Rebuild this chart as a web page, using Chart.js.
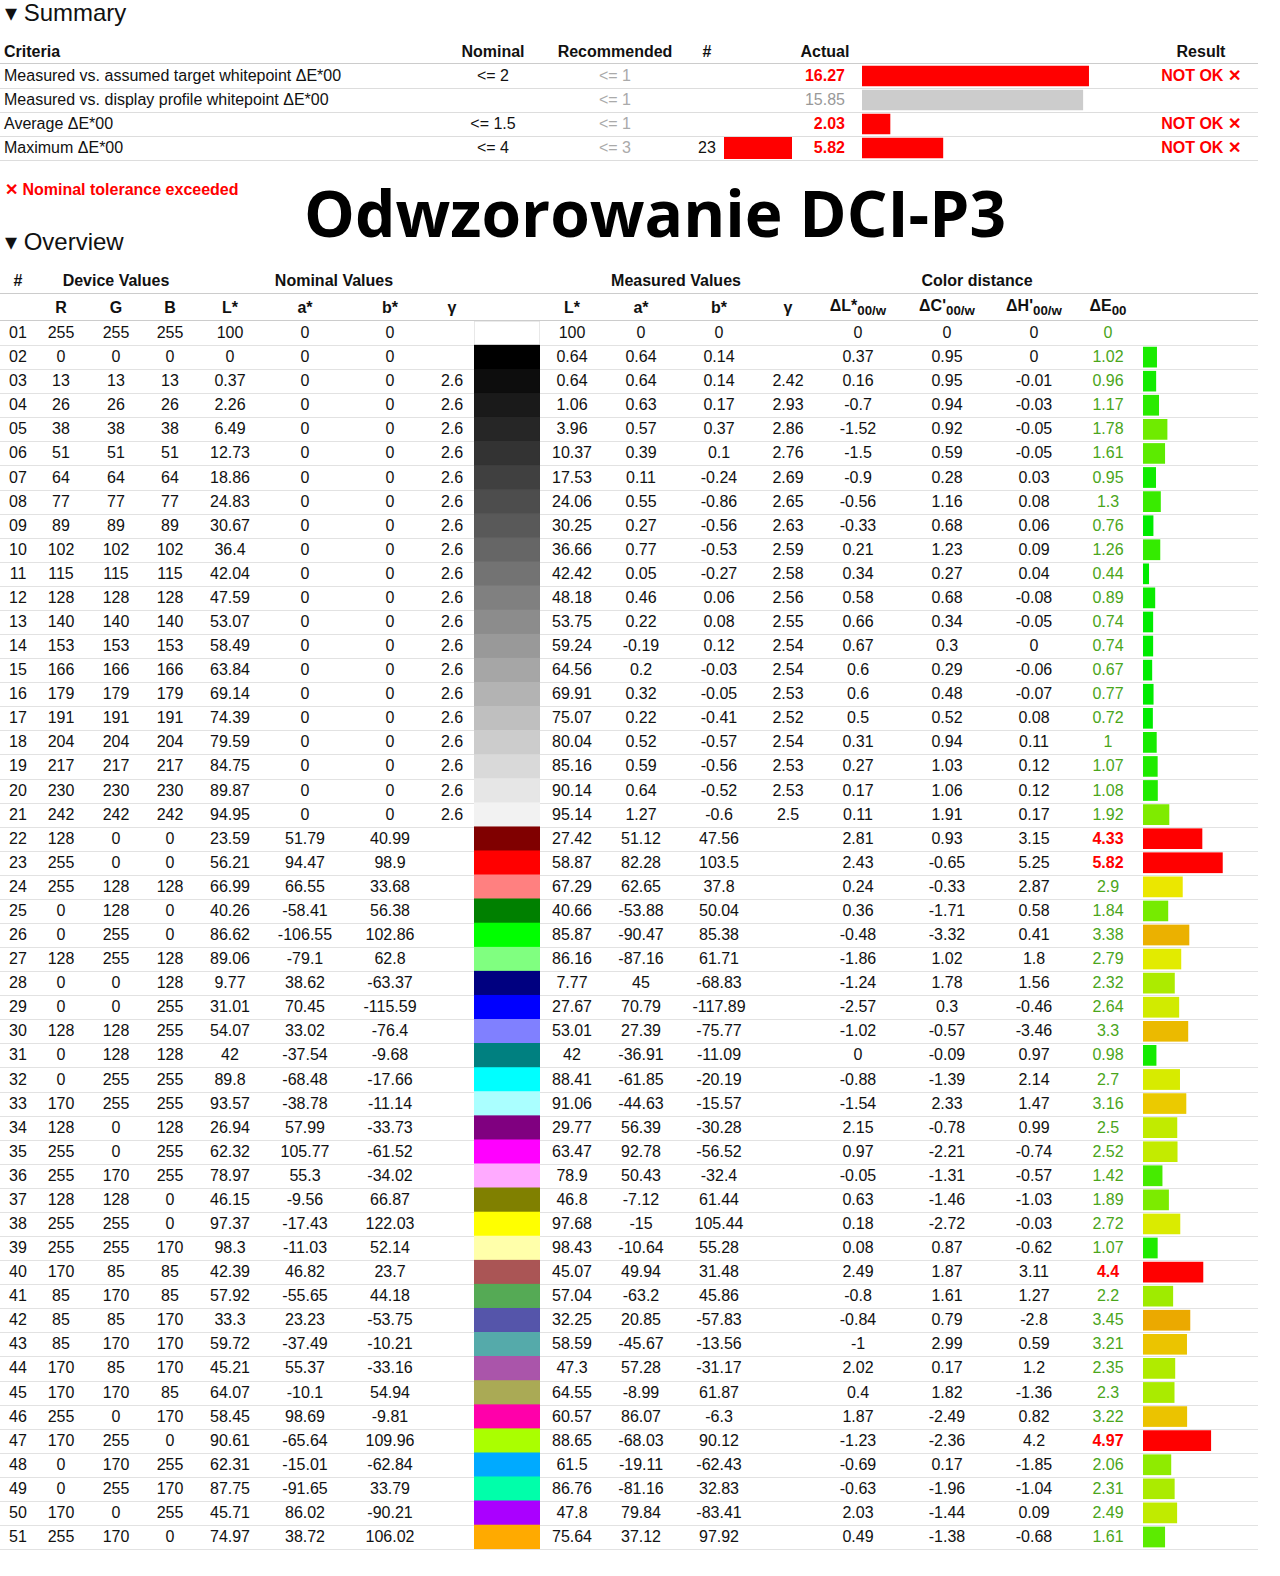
<!DOCTYPE html>
<html><head><meta charset="utf-8">
<script src="https://cdn.jsdelivr.net/npm/chart.js@4"></script>
<style>
body{margin:0;background:#fff;font-family:"Liberation Sans",Arial,sans-serif;font-size:16px;color:#111;}
#page{position:relative;width:1280px;height:1576px;overflow:hidden;}
.t{position:absolute;white-space:nowrap;line-height:1;}
.c{transform:translate(-50%,-50%);}
.l{transform:translate(0,-50%);}
.r{transform:translate(-100%,-50%);}
.hl{position:absolute;height:1px;background:#ddd;}
canvas{position:absolute;}
</style></head>
<body><div id="page"></div>
<script>
const summaryLabels = ["Measured vs. assumed target whitepoint ΔE*00","Measured vs. display profile whitepoint ΔE*00","Average ΔE*00","Maximum ΔE*00"];
const summaryNominal = ["<= 2","","<= 1.5","<= 4"];
const summaryRecommended = ["<= 1","<= 1","<= 1","<= 3"];
const summaryCount = ["","","","23"];
const summaryActual = [16.27,15.85,2.03,5.82];
const summaryResult = ["NOT OK ✕","","NOT OK ✕","NOT OK ✕"];

const devR = [255,0,13,26,38,51,64,77,89,102,115,128,140,153,166,179,191,204,217,230,242,128,255,255,0,0,128,0,0,128,0,0,170,128,255,255,128,255,255,170,85,85,85,170,170,255,170,0,0,170,255];
const devG = [255,0,13,26,38,51,64,77,89,102,115,128,140,153,166,179,191,204,217,230,242,0,0,128,128,255,255,0,0,128,128,255,255,0,0,170,128,255,255,85,170,85,170,85,170,0,255,170,255,0,170];
const devB = [255,0,13,26,38,51,64,77,89,102,115,128,140,153,166,179,191,204,217,230,242,0,0,128,0,0,128,128,255,255,128,255,255,128,255,255,0,0,170,85,85,170,170,170,85,170,0,255,170,255,0];
const nomL = [100,0,0.37,2.26,6.49,12.73,18.86,24.83,30.67,36.4,42.04,47.59,53.07,58.49,63.84,69.14,74.39,79.59,84.75,89.87,94.95,23.59,56.21,66.99,40.26,86.62,89.06,9.77,31.01,54.07,42,89.8,93.57,26.94,62.32,78.97,46.15,97.37,98.3,42.39,57.92,33.3,59.72,45.21,64.07,58.45,90.61,62.31,87.75,45.71,74.97];
const nomA = [0,0,0,0,0,0,0,0,0,0,0,0,0,0,0,0,0,0,0,0,0,51.79,94.47,66.55,-58.41,-106.55,-79.1,38.62,70.45,33.02,-37.54,-68.48,-38.78,57.99,105.77,55.3,-9.56,-17.43,-11.03,46.82,-55.65,23.23,-37.49,55.37,-10.1,98.69,-65.64,-15.01,-91.65,86.02,38.72];
const nomB = [0,0,0,0,0,0,0,0,0,0,0,0,0,0,0,0,0,0,0,0,0,40.99,98.9,33.68,56.38,102.86,62.8,-63.37,-115.59,-76.4,-9.68,-17.66,-11.14,-33.73,-61.52,-34.02,66.87,122.03,52.14,23.7,44.18,-53.75,-10.21,-33.16,54.94,-9.81,109.96,-62.84,33.79,-90.21,106.02];
const nomGamma = ["","",2.6,2.6,2.6,2.6,2.6,2.6,2.6,2.6,2.6,2.6,2.6,2.6,2.6,2.6,2.6,2.6,2.6,2.6,2.6];
const measL = [100,0.64,0.64,1.06,3.96,10.37,17.53,24.06,30.25,36.66,42.42,48.18,53.75,59.24,64.56,69.91,75.07,80.04,85.16,90.14,95.14,27.42,58.87,67.29,40.66,85.87,86.16,7.77,27.67,53.01,42,88.41,91.06,29.77,63.47,78.9,46.8,97.68,98.43,45.07,57.04,32.25,58.59,47.3,64.55,60.57,88.65,61.5,86.76,47.8,75.64];
const measA = [0,0.64,0.64,0.63,0.57,0.39,0.11,0.55,0.27,0.77,0.05,0.46,0.22,-0.19,0.2,0.32,0.22,0.52,0.59,0.64,1.27,51.12,82.28,62.65,-53.88,-90.47,-87.16,45,70.79,27.39,-36.91,-61.85,-44.63,56.39,92.78,50.43,-7.12,-15,-10.64,49.94,-63.2,20.85,-45.67,57.28,-8.99,86.07,-68.03,-19.11,-81.16,79.84,37.12];
const measB = [0,0.14,0.14,0.17,0.37,0.1,-0.24,-0.86,-0.56,-0.53,-0.27,0.06,0.08,0.12,-0.03,-0.05,-0.41,-0.57,-0.56,-0.52,-0.6,47.56,103.5,37.8,50.04,85.38,61.71,-68.83,-117.89,-75.77,-11.09,-20.19,-15.57,-30.28,-56.52,-32.4,61.44,105.44,55.28,31.48,45.86,-57.83,-13.56,-31.17,61.87,-6.3,90.12,-62.43,32.83,-83.41,97.92];
const measGamma = ["","",2.42,2.93,2.86,2.76,2.69,2.65,2.63,2.59,2.58,2.56,2.55,2.54,2.54,2.53,2.52,2.54,2.53,2.53,2.5];
const deltaL = [0,0.37,0.16,-0.7,-1.52,-1.5,-0.9,-0.56,-0.33,0.21,0.34,0.58,0.66,0.67,0.6,0.6,0.5,0.31,0.27,0.17,0.11,2.81,2.43,0.24,0.36,-0.48,-1.86,-1.24,-2.57,-1.02,0,-0.88,-1.54,2.15,0.97,-0.05,0.63,0.18,0.08,2.49,-0.8,-0.84,-1,2.02,0.4,1.87,-1.23,-0.69,-0.63,2.03,0.49];
const deltaC = [0,0.95,0.95,0.94,0.92,0.59,0.28,1.16,0.68,1.23,0.27,0.68,0.34,0.3,0.29,0.48,0.52,0.94,1.03,1.06,1.91,0.93,-0.65,-0.33,-1.71,-3.32,1.02,1.78,0.3,-0.57,-0.09,-1.39,2.33,-0.78,-2.21,-1.31,-1.46,-2.72,0.87,1.87,1.61,0.79,2.99,0.17,1.82,-2.49,-2.36,0.17,-1.96,-1.44,-1.38];
const deltaH = [0,0,-0.01,-0.03,-0.05,-0.05,0.03,0.08,0.06,0.09,0.04,-0.08,-0.05,0,-0.06,-0.07,0.08,0.11,0.12,0.12,0.17,3.15,5.25,2.87,0.58,0.41,1.8,1.56,-0.46,-3.46,0.97,2.14,1.47,0.99,-0.74,-0.57,-1.03,-0.03,-0.62,3.11,1.27,-2.8,0.59,1.2,-1.36,0.82,4.2,-1.85,-1.04,0.09,-0.68];
const deltaE = [0,1.02,0.96,1.17,1.78,1.61,0.95,1.3,0.76,1.26,0.44,0.89,0.74,0.74,0.67,0.77,0.72,1,1.07,1.08,1.92,4.33,5.82,2.9,1.84,3.38,2.79,2.32,2.64,3.3,0.98,2.7,3.16,2.5,2.52,1.42,1.89,2.72,1.07,4.4,2.2,3.45,3.21,2.35,2.3,3.22,4.97,2.06,2.31,2.49,1.61];

const page = document.getElementById("page");
function txt(s, x, y, cls, style) {
  const d = document.createElement("div");
  d.className = "t " + (cls || "c");
  d.innerHTML = s;
  d.style.left = x + "px"; d.style.top = y + "px";
  if (style) d.style.cssText += style;
  page.appendChild(d);
  return d;
}
function line(x, y, w, col) {
  const d = document.createElement("div");
  d.className = "hl";
  d.style.left = x + "px"; d.style.top = y + "px"; d.style.width = w + "px";
  if (col) d.style.background = col;
  page.appendChild(d);
}
function deColor(v) {
  if (v >= 4) return "#ff0000";
  const h = Math.max(40, 120 - Math.max(0, v - 0.8) * 29);
  return `hsl(${h},100%,46%)`;
}
function makeCanvas(x, y, w, h) {
  const c = document.createElement("canvas");
  c.style.left = x + "px"; c.style.top = y + "px";
  c.style.width = w + "px"; c.style.height = h + "px";
  c.width = w; c.height = h;
  page.appendChild(c);
  return c;
}
function hbar(canvas, labels, values, colors, max, pct, border) {
  return new Chart(canvas, {
    type: "bar",
    data: { labels: labels, datasets: [{ data: values, backgroundColor: colors,
      borderColor: border || colors, borderWidth: border ? 1 : 0,
      categoryPercentage: 1, barPercentage: pct, borderSkipped: false }] },
    options: {
      indexAxis: "y", responsive: false, animation: false, devicePixelRatio: 2,
      layout: { padding: 0 },
      plugins: { legend: { display: false }, tooltip: { enabled: false } },
      scales: { x: { display: false, min: 0, max: max }, y: { display: false } }
    }
  });
}

// Summary
txt("▾ Summary", 5, 13, "l", "font-size:24px;");
const sh = "font-weight:bold;";
txt("Criteria", 4, 52, "l", sh);
txt("Nominal", 493, 52, "c", sh);
txt("Recommended", 615, 52, "c", sh);
txt("#", 707, 52, "c", sh);
txt("Actual", 825, 52, "c", sh);
txt("Result", 1201, 52, "c", sh);
line(0, 63, 1258, "#ccc");
summaryLabels.forEach((s, i) => {
  const y = 76 + i * 24;
  txt(s, 4, y, "l");
  txt(summaryNominal[i], 493, y, "c");
  txt(summaryRecommended[i], 615, y, "c", "color:#aaa;");
  txt(summaryCount[i], 707, y, "c");
  const bad = summaryResult[i] !== "";
  txt(summaryActual[i].toFixed(2), 845, y, "r", bad ? "color:#f00;font-weight:bold;" : "color:#999;");
  txt(summaryResult[i], 1201, y, "c", "color:#f00;font-weight:bold;");
  line(0, y + 12, 1258, "#ddd");
});
hbar(makeCanvas(862, 64, 238, 96), summaryLabels, summaryActual,
  summaryActual.map((v, i) => summaryResult[i] ? "#ff0000" : "#cccccc"), 17.06, 0.85);
// max row swatch
hbar(makeCanvas(724, 137, 68, 22), ["max"], [1], ["#ff0000"], 1, 1);

txt("✕ Nominal tolerance exceeded", 5, 190, "l", "color:#f00;font-weight:bold;");
txt("Odwzorowanie DCI-P3", 655, 213, "c", "font-family:'Open Sans';font-weight:bold;font-size:64px;color:#000;");
txt("▾ Overview", 5, 242, "l", "font-size:24px;");

// Overview headers
txt("#", 18, 281, "c", sh);
txt("Device Values", 116, 281, "c", sh);
txt("Nominal Values", 334, 281, "c", sh);
txt("Measured Values", 676, 281, "c", sh);
txt("Color distance", 977, 281, "c", sh);
line(0, 293, 1258, "#ccc");
const colX = [61,116,170,230,305,390,452,572,641,719,788,858,947,1034,1108];
const subs = ["R","G","B","L*","a*","b*","γ","L*","a*","b*","γ",
  "ΔL*<sub>00/w</sub>","ΔC'<sub>00/w</sub>","ΔH'<sub>00/w</sub>","ΔE<sub>00</sub>"];
subs.forEach((s, i) => txt(s, colX[i], 308, "c", sh));
line(0, 320, 1258, "#ccc");

const rowH = 24.08, top0 = 321;
const rowLabels = deltaE.map((v, i) => String(i + 1).padStart(2, "0"));
rowLabels.forEach((lab, i) => {
  const y = top0 + rowH * i + rowH / 2;
  const vals = [devR[i], devG[i], devB[i], nomL[i], nomA[i], nomB[i], nomGamma[i] ?? "",
    measL[i], measA[i], measB[i], measGamma[i] ?? "", deltaL[i], deltaC[i], deltaH[i]];
  txt(lab, 18, y, "c");
  vals.forEach((v, k) => txt(String(v), colX[k], y, "c"));
  const e = deltaE[i];
  txt(String(e), colX[14], y, "c", e >= 4 ? "color:#f00;font-weight:bold;" : "color:#4aa51a;");
  line(0, top0 + rowH * (i + 1), 1258, "#e2e2e2");
});

// swatches
const swatchColors = devR.map((r, i) => `rgb(${r},${devG[i]},${devB[i]})`);
hbar(makeCanvas(474, top0, 66, rowH * 51), rowLabels, deltaE.map(() => 1), swatchColors, 1, 1,
  swatchColors.map((c, i) => i === 0 ? "#ddd" : c));
// deltaE bars
hbar(makeCanvas(1143, top0, 117, rowH * 51), rowLabels, deltaE, deltaE.map(deColor), 8.54, 0.86);
</script></body></html>
